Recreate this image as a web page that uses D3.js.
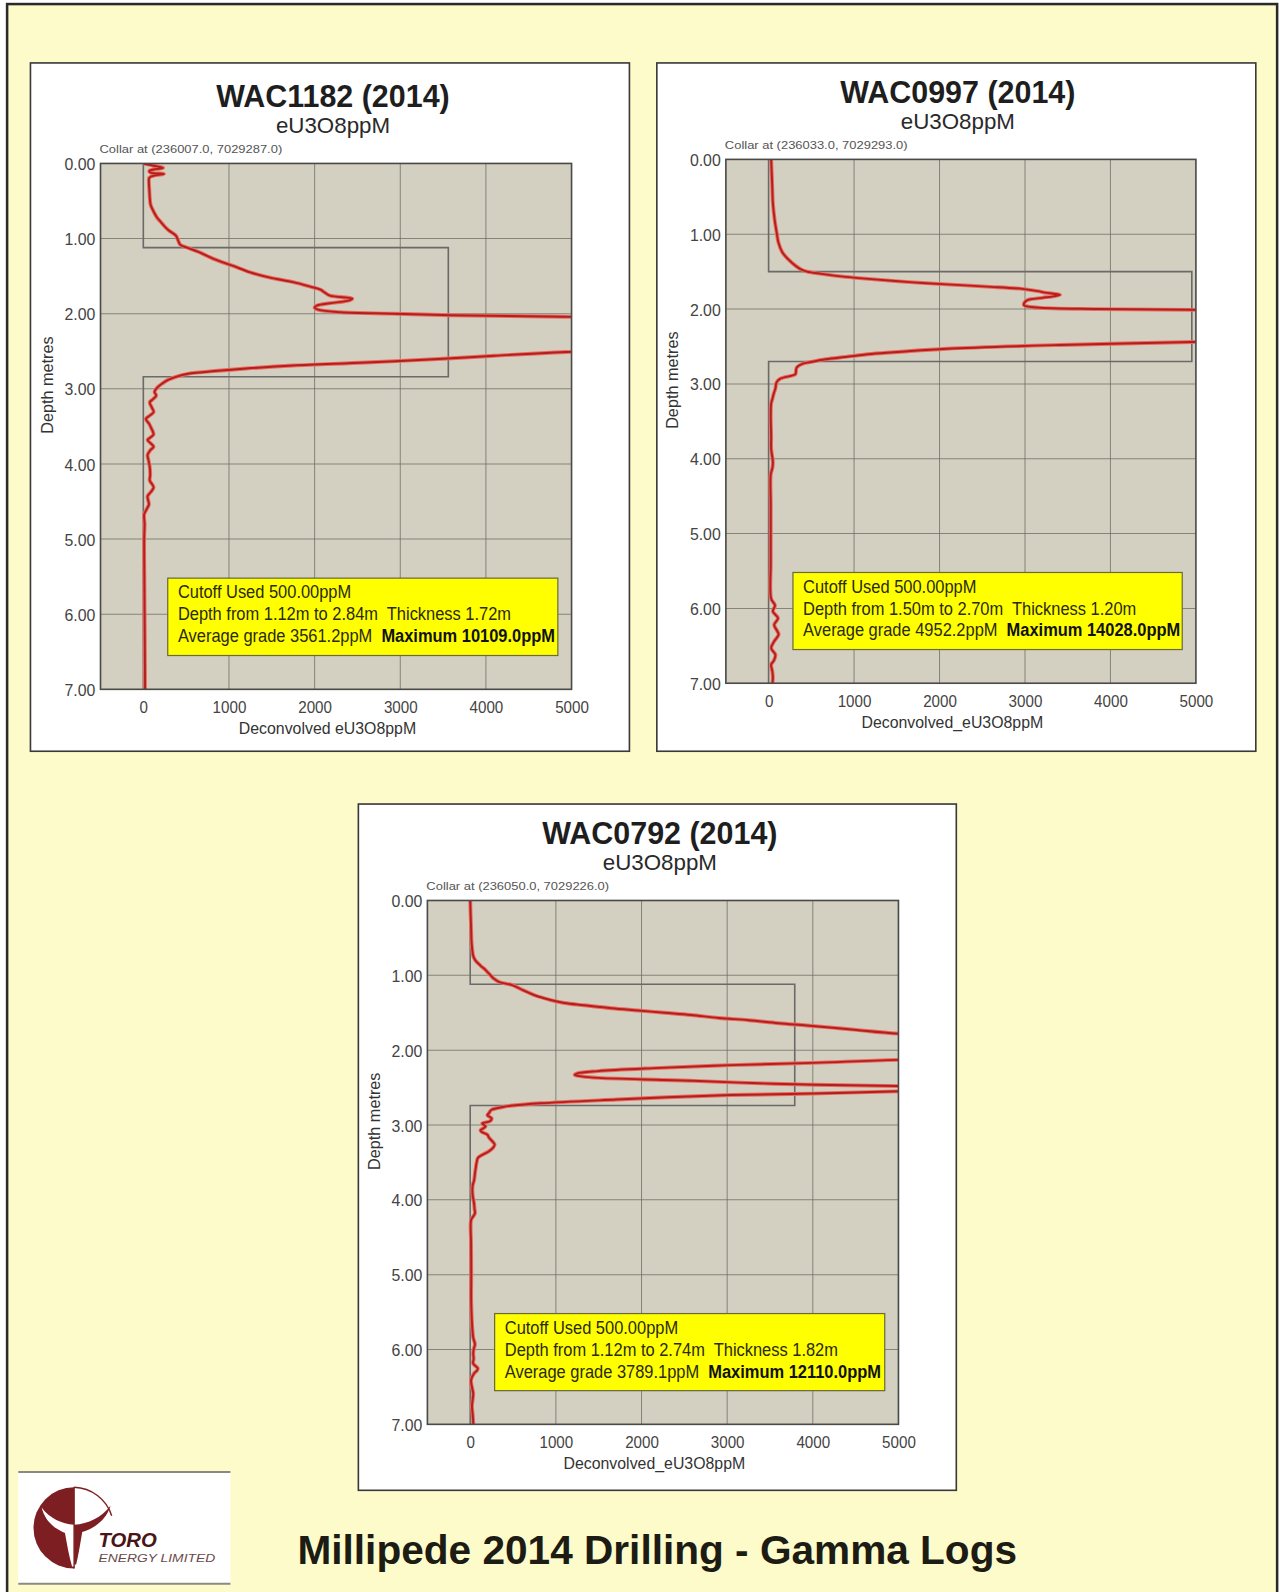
<!DOCTYPE html>
<html><head><meta charset="utf-8">
<script src="https://cdn.jsdelivr.net/npm/d3@7"></script>
<style>
html,body{margin:0;padding:0;background:#ffffff;}
svg{display:block;}
</style></head>
<body>
<svg id="chart" width="1279" height="1592"></svg>
<script>
// ---------------- DATA ----------------
const holeNames = ["WAC1182 (2014)", "WAC0997 (2014)", "WAC0792 (2014)"];
const collarLabels = ["Collar at (236007.0, 7029287.0)", "Collar at (236033.0, 7029293.0)", "Collar at (236050.0, 7029226.0)"];
const xAxisTitles = ["Deconvolved eU3O8ppM", "Deconvolved_eU3O8ppM", "Deconvolved_eU3O8ppM"];
const subTitle = "eU3O8ppM";
const yAxisTitle = "Depth metres";
const xTicks = [0, 1000, 2000, 3000, 4000, 5000];
const yTicks = [0, 1, 2, 3, 4, 5, 6, 7];

const cutoffUsed = [500.00, 500.00, 500.00];
const interceptFrom = [1.12, 1.50, 1.12];
const interceptTo = [2.84, 2.70, 2.74];
const interceptThickness = [1.72, 1.20, 1.82];
const averageGrade = [3561.2, 4952.2, 3789.1];
const maximumGrade = [10109.0, 14028.0, 12110.0];

// [depth m, eU3O8 ppm]
const wac1182 = [[0.00,0],[0.03,120],[0.06,230],[0.08,120],[0.10,70],[0.12,80],[0.14,240],[0.16,130],[0.19,70],[0.25,65],[0.35,70],[0.45,75],[0.55,85],[0.64,120],[0.72,160],[0.78,205],[0.84,250],[0.89,295],[0.96,380],[1.02,405],[1.08,430],[1.12,510],[1.18,650],[1.27,820],[1.36,1040],[1.45,1250],[1.52,1480],[1.58,1750],[1.64,1950],[1.68,2070],[1.72,2120],[1.76,2180],[1.80,2440],[1.83,2380],[1.86,2180],[1.89,2030],[1.92,2000],[1.95,2050],[1.98,2300],[2.00,2900],[2.02,3600],[2.04,4900],[2.08,6800],[2.15,8600],[2.25,10109],[2.35,9300],[2.44,7200],[2.51,4940],[2.56,4100],[2.60,3500],[2.65,2600],[2.69,1750],[2.73,1200],[2.76,870],[2.80,520],[2.84,380],[2.88,290],[2.93,220],[2.98,165],[3.04,130],[3.09,150],[3.14,110],[3.18,75],[3.25,100],[3.31,120],[3.36,70],[3.40,30],[3.47,70],[3.53,95],[3.58,115],[3.61,118],[3.65,80],[3.68,50],[3.73,90],[3.77,120],[3.82,80],[3.88,50],[3.95,60],[4.04,75],[4.15,80],[4.22,75],[4.31,120],[4.37,90],[4.43,50],[4.50,60],[4.54,65],[4.60,40],[4.67,10],[4.80,15],[5.00,10],[5.50,12],[6.00,15],[6.50,18],[7.00,20]];
const wac0997 = [[0.00,30],[0.15,35],[0.27,40],[0.45,45],[0.58,50],[0.80,70],[0.98,95],[1.11,115],[1.24,160],[1.33,225],[1.42,314],[1.47,380],[1.50,450],[1.53,620],[1.57,900],[1.60,1200],[1.64,1650],[1.67,2085],[1.70,2550],[1.73,2970],[1.76,3150],[1.78,3235],[1.81,3410],[1.83,3330],[1.85,3200],[1.88,3030],[1.92,2990],[1.95,2990],[1.98,3145],[2.00,3850],[2.01,4960],[2.05,7000],[2.12,11000],[2.20,14028],[2.28,12500],[2.36,9000],[2.42,5500],[2.44,4960],[2.48,3410],[2.53,2085],[2.57,1550],[2.60,1200],[2.64,900],[2.67,670],[2.71,480],[2.73,400],[2.78,330],[2.83,320],[2.87,314],[2.93,137],[2.98,93],[3.06,80],[3.13,60],[3.20,45],[3.26,30],[3.43,25],[3.70,30],[3.87,30],[4.04,50],[4.12,45],[4.21,25],[4.60,25],[5.00,25],[5.40,25],[5.87,30],[5.96,75],[6.04,50],[6.13,110],[6.22,65],[6.30,100],[6.35,117],[6.44,65],[6.53,30],[6.62,80],[6.70,60],[6.75,30],[6.85,45],[6.93,50],[7.00,45]];
const wac0792 = [[0.00,0],[0.20,5],[0.36,10],[0.55,15],[0.67,25],[0.74,35],[0.80,60],[0.87,120],[0.93,180],[0.99,230],[1.04,270],[1.09,340],[1.13,490],[1.20,620],[1.27,760],[1.33,940],[1.37,1100],[1.40,1330],[1.44,1650],[1.47,1960],[1.50,2270],[1.53,2580],[1.57,2900],[1.60,3250],[1.64,3600],[1.67,3930],[1.70,4230],[1.73,4510],[1.78,5000],[1.84,6800],[1.92,9500],[1.97,12110],[2.03,10000],[2.08,7500],[2.13,5000],[2.17,4000],[2.20,3040],[2.24,2150],[2.28,1490],[2.31,1250],[2.33,1220],[2.35,1300],[2.37,1500],[2.41,2600],[2.44,3300],[2.46,3930],[2.48,5000],[2.50,9000],[2.53,6500],[2.55,5000],[2.58,4000],[2.60,3040],[2.63,2300],[2.66,1710],[2.71,820],[2.74,500],[2.76,380],[2.80,245],[2.84,220],[2.87,200],[2.91,250],[2.95,230],[2.98,140],[3.02,180],[3.07,120],[3.09,130],[3.13,200],[3.17,220],[3.22,260],[3.26,285],[3.30,270],[3.35,220],[3.40,140],[3.44,90],[3.50,75],[3.57,65],[3.65,55],[3.74,45],[3.80,30],[3.87,25],[3.95,30],[4.05,45],[4.12,50],[4.18,55],[4.23,30],[4.27,10],[4.60,10],[5.00,12],[5.40,12],[5.84,35],[5.93,55],[6.00,40],[6.06,35],[6.12,40],[6.19,35],[6.25,88],[6.28,80],[6.32,45],[6.41,10],[6.50,20],[6.59,35],[6.70,25],[6.76,20],[6.88,30],[6.98,35],[7.00,35]];
const curves = [wac1182, wac0997, wac0792];

const footerTitle = "Millipede 2014 Drilling - Gamma Logs";
const logoName = "TORO";
const logoSub = "ENERGY LIMITED";

// ---------------- LAYOUT ----------------
const K = 1.0152; // overall page scale
const panels = [
  {box:[30,62,590,678],  plot:[99,161,563,679]},
  {box:[647,62,590,678], plot:[715,157,1178,673]},
  {box:[353,792,589,676],plot:[421,887,885,1403]}
];
const SANS = "'Liberation Sans',Arial,Helvetica,sans-serif";

const root = d3.select("#chart");
root.append("rect").attr("width",1279).attr("height",1592).attr("fill","#ffffff");
const svg = root.append("g").attr("transform",`scale(${K})`);
const defs = root.append("defs");

svg.append("rect").attr("x",7).attr("y",4).attr("width",1251).attr("height",1600)
  .attr("fill","#fefbcb").attr("stroke","#2a2a2a").attr("stroke-width",2.5);

function ctext(parent, x, y, sx){
  return parent.append("text").attr("transform",`translate(${x},${y}) scale(${sx},1)`);
}

panels.forEach((p, i) => {
  const [bx,by,bw,bh] = p.box;
  const [x0,y0,x1,y1] = p.plot;
  svg.append("rect").attr("x",bx).attr("y",by).attr("width",bw).attr("height",bh)
    .attr("fill","#ffffff").attr("stroke","#3a3a3a").attr("stroke-width",1.6);

  const x = d3.scaleLinear().domain([-500,5000]).range([x0,x1]);
  const y = d3.scaleLinear().domain([0,7]).range([y0,y1]);
  const g = svg.append("g");

  g.append("rect").attr("x",x0).attr("y",y0).attr("width",x1-x0).attr("height",y1-y0)
    .attr("fill","#d3d0c1");

  g.selectAll(".vg").data(xTicks.filter(t=>t>0 && t<5000)).join("line")
    .attr("x1",d=>x(d)).attr("x2",d=>x(d)).attr("y1",y0).attr("y2",y1)
    .attr("stroke","#6c6b62").attr("stroke-width",1).attr("opacity",0.75);
  g.selectAll(".hg").data(yTicks.filter(t=>t>0 && t<7)).join("line")
    .attr("y1",d=>y(d)).attr("y2",d=>y(d)).attr("x1",x0).attr("x2",x1)
    .attr("stroke","#6c6b62").attr("stroke-width",1).attr("opacity",0.75);

  const cid = "clip"+i;
  defs.append("clipPath").attr("id",cid).append("rect")
    .attr("x",x0*K).attr("y",y0*K).attr("width",(x1-x0)*K).attr("height",(y1-y0)*K)
    .attr("transform",`scale(${1/K})`);

  const step = [[0,0],[interceptFrom[i],0],[interceptFrom[i],averageGrade[i]],
                [interceptTo[i],averageGrade[i]],[interceptTo[i],0],[7,0]];
  g.append("path").datum(step)
    .attr("d", d3.line().x(d=>x(d[1])).y(d=>y(d[0])))
    .attr("fill","none").attr("stroke","#6a6a6a").attr("stroke-width",1.6)
    .attr("clip-path",`url(#${cid})`);

  const line = d3.line().x(d=>x(d[1])).y(d=>y(d[0])).curve(d3.curveCatmullRom.alpha(0.5));
  const cg = g.append("g").attr("clip-path",`url(#${cid})`);
  cg.append("path").datum(curves[i]).attr("d",line)
    .attr("fill","none").attr("stroke","#ee6a60").attr("stroke-width",3.8).attr("stroke-linejoin","round");
  cg.append("path").datum(curves[i]).attr("d",line)
    .attr("fill","none").attr("stroke","#b0201d").attr("stroke-width",1.9).attr("stroke-linejoin","round");

  g.append("rect").attr("x",x0).attr("y",y0).attr("width",x1-x0).attr("height",y1-y0)
    .attr("fill","none").attr("stroke","#4a4a48").attr("stroke-width",1.6);

  const ax = g.append("g").attr("transform",`translate(0,${y1})`)
    .call(d3.axisBottom(x).tickValues(xTicks).tickFormat(d3.format("d")).tickSize(0).tickPadding(0));
  ax.select(".domain").remove();
  ax.selectAll("text").attr("dy",null).attr("y",null)
    .attr("transform","translate(0,23) scale(0.88,1)")
    .attr("font-family",SANS).attr("font-size",17).attr("fill","#444");
  const ay = g.append("g").attr("transform",`translate(${x0},0)`)
    .call(d3.axisLeft(y).tickValues(yTicks).tickFormat(d3.format(".2f")).tickSize(0).tickPadding(0));
  ay.select(".domain").remove();
  ay.selectAll("text").attr("x",null).attr("dy","0.35em")
    .attr("transform","translate(-5,0) scale(0.92,1)")
    .attr("font-family",SANS).attr("font-size",17).attr("fill","#444");

  const cx = (x0+x1)/2 - 3;
  g.append("text").attr("x",cx).attr("y",y0-56).attr("text-anchor","middle")
    .attr("font-family",SANS).attr("font-weight","bold").attr("font-size",30).attr("fill","#1e1e1e").text(holeNames[i]);
  g.append("text").attr("x",cx).attr("y",y0-30).attr("text-anchor","middle")
    .attr("font-family",SANS).attr("font-size",22).attr("fill","#2a2a2a").text(subTitle);
  g.append("text").attr("x",x0-1).attr("y",y0-10)
    .attr("textLength",180).attr("lengthAdjust","spacingAndGlyphs")
    .attr("font-family",SANS).attr("font-size",10.5).attr("fill","#555").text(collarLabels[i]);
  g.append("text").attr("transform",`translate(${x0-47},${y(2.95)}) rotate(-90)`).attr("text-anchor","middle")
    .attr("font-family",SANS).attr("font-size",16).attr("fill","#333").text(yAxisTitle);
  ctext(g, x(2150), y1+44, 0.92).attr("text-anchor","middle")
    .attr("font-family",SANS).attr("font-size",17).attr("fill","#333").text(xAxisTitles[i]);

  const bxl = x(285), bxr = x(4840), byt = y(5.52), byb = y(6.55);
  g.append("rect").attr("x",bxl).attr("y",byt).attr("width",bxr-bxl).attr("height",byb-byt)
    .attr("fill","#ffff00").attr("stroke","#6a6a3a").attr("stroke-width",1.2);
  const tx = bxl+10;
  const lines = [
    `Cutoff Used ${cutoffUsed[i].toFixed(2)}ppM`,
    `Depth from ${interceptFrom[i].toFixed(2)}m to ${interceptTo[i].toFixed(2)}m  Thickness ${interceptThickness[i].toFixed(2)}m`
  ];
  lines.forEach((t,k)=>{
    ctext(g, tx, byt+20+k*21.5, 0.9).attr("xml:space","preserve")
      .attr("font-family",SANS).attr("font-size",18).attr("fill","#2a2a10").text(t);
  });
  const t3 = ctext(g, tx, byt+63, 0.9).attr("xml:space","preserve")
    .attr("font-family",SANS).attr("font-size",18).attr("fill","#2a2a10");
  t3.append("tspan").text(`Average grade ${averageGrade[i].toFixed(1)}ppM  `);
  t3.append("tspan").attr("font-weight","bold").attr("fill","#111").text(`Maximum ${maximumGrade[i].toFixed(1)}ppM`);
});

// ---------------- LOGO ----------------
const logo = svg.append("g");
logo.append("rect").attr("x",18).attr("y",1450).attr("width",209).attr("height",110).attr("fill","#ffffff");
logo.append("line").attr("x1",18).attr("x2",227).attr("y1",1450).attr("y2",1450).attr("stroke","#8a8a80").attr("stroke-width",2);
logo.append("line").attr("x1",18).attr("x2",227).attr("y1",1560).attr("y2",1560).attr("stroke","#8a8a80").attr("stroke-width",2);
const lcx = 73, lcy = 1505, lr = 40;
const maroon = "#7d1f22";
logo.append("path").attr("d",`M${lcx},${lcy-lr} A${lr},${lr} 0 0,0 ${lcx},${lcy+lr} Z`).attr("fill",maroon);
logo.append("path").attr("d",`M${lcx},${lcy-lr} A${lr},${lr} 0 0,1 ${lcx+lr-3},${lcy-12}`).attr("fill","none").attr("stroke",maroon).attr("stroke-width",1.4);
logo.append("path").attr("d",`M${lcx-32},${lcy-20} C${lcx-28},${lcy-4} ${lcx-16},${lcy+2} ${lcx-9},${lcy+5} C${lcx-7},${lcy+16} ${lcx-5},${lcy+28} ${lcx-2},${lcy+38} L${lcx},${lcy+38} L${lcx},${lcy-3} C${lcx-12},${lcy-4} ${lcx-24},${lcy-9} ${lcx-32},${lcy-20} Z`).attr("fill","#ffffff");
logo.append("path").attr("d",`M${lcx+36},${lcy-22} C${lcx+31},${lcy-6} ${lcx+18},${lcy+1} ${lcx+8},${lcy+4} C${lcx+6},${lcy+16} ${lcx+4},${lcy+28} ${lcx+2},${lcy+36} L${lcx},${lcy+36} L${lcx},${lcy-3} C${lcx+14},${lcy-4} ${lcx+27},${lcy-10} ${lcx+36},${lcy-22} Z`).attr("fill",maroon);
logo.append("line").attr("x1",lcx).attr("x2",lcx).attr("y1",lcy-lr).attr("y2",lcy+lr).attr("stroke",maroon).attr("stroke-width",1.4);
logo.append("text").attr("x",97).attr("y",1524).attr("font-family",SANS).attr("font-style","italic").attr("font-weight","bold")
  .attr("font-size",20).attr("fill","#4a1517").text(logoName);
logo.append("text").attr("x",97).attr("y",1539).attr("textLength",115).attr("lengthAdjust","spacingAndGlyphs")
  .attr("font-family",SANS).attr("font-style","italic").attr("font-size",11.5).attr("fill","#6a4a4a").text(logoSub);

// ---------------- FOOTER TITLE ----------------
svg.append("text").attr("x",293).attr("y",1541).attr("font-family",SANS).attr("font-weight","bold")
  .attr("font-size",40).attr("fill","#1c1c14").text(footerTitle);
</script>
</body></html>
